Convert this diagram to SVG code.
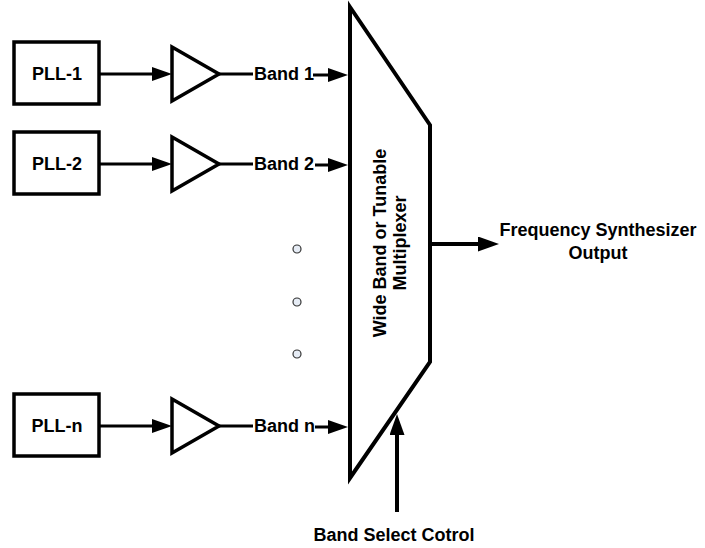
<svg xmlns="http://www.w3.org/2000/svg" width="705" height="548" viewBox="0 0 705 548">
<defs>
<style>
.box{fill:#fff;stroke:#000;stroke-width:3.5}
.amp{fill:#fff;stroke:#000;stroke-width:3.5;stroke-linejoin:miter}
.mux{fill:#fff;stroke:#000;stroke-width:4;stroke-linejoin:miter}
.ln{fill:none;stroke:#000;stroke-width:3}
.arr{fill:none;stroke:#000;stroke-width:3;marker-end:url(#ah)}
.arrb{fill:none;stroke:#000;stroke-width:4;marker-end:url(#ahb)}
.t{font-family:"Liberation Sans",Arial,sans-serif;font-weight:bold;font-size:18px;fill:#000}
.dot{fill:#e6ecf5;stroke:#333;stroke-width:1.2}
</style>
<marker id="ah" viewBox="0 0 20 14" refX="10" refY="7" markerWidth="20" markerHeight="14" markerUnits="userSpaceOnUse" orient="auto">
<path d="M0,0 L20,7 L0,14 z" fill="#000"/>
</marker>
<marker id="ahb" viewBox="0 0 21 15" refX="10" refY="7.5" markerWidth="21" markerHeight="15" markerUnits="userSpaceOnUse" orient="auto">
<path d="M0,0 L21,7.5 L0,15 z" fill="#000"/>
</marker>
</defs>

<g id="pll1">
<rect class="box" x="14" y="42" width="85" height="62"/>
<text class="t" x="57" y="80" text-anchor="middle">PLL-1</text>
</g>
<g id="pll2">
<rect class="box" x="14" y="132" width="85" height="62"/>
<text class="t" x="57" y="170" text-anchor="middle">PLL-2</text>
</g>
<g id="plln">
<rect class="box" x="14" y="394" width="85" height="62"/>
<text class="t" x="57" y="432" text-anchor="middle">PLL-n</text>
</g>

<g id="amp1"><polygon class="amp" points="172,47 219,74 172,101"/></g>
<g id="amp2"><polygon class="amp" points="172,137 219,164 172,191"/></g>
<g id="ampn"><polygon class="amp" points="172,399 219,426 172,453"/></g>

<g id="mux">
<polygon class="mux" points="350,7 430,125 430,362 350,478"/>
<text class="t" transform="translate(386,243) rotate(-90)" text-anchor="middle">Wide Band or Tunable</text>
<text class="t" transform="translate(406,243) rotate(-90)" text-anchor="middle">Multiplexer</text>
</g>

<g id="dots">
<circle class="dot" cx="297" cy="249" r="4"/>
<circle class="dot" cx="297" cy="302" r="4"/>
<circle class="dot" cx="297" cy="354" r="4"/>
</g>

<g id="labels">
<text class="t" x="254" y="80">Band 1</text>
<text class="t" x="254" y="170">Band 2</text>
<text class="t" x="254" y="432">Band n</text>
<text class="t" x="598" y="236" text-anchor="middle">Frequency Synthesizer</text>
<text class="t" x="598" y="259" text-anchor="middle">Output</text>
<text class="t" x="394" y="541" text-anchor="middle">Band Select Cotrol</text>
</g>

<g id="connectors">
<path class="arr" d="M99,74 H162"/>
<path class="arr" d="M99,164 H162"/>
<path class="arr" d="M99,426 H162"/>
<path class="ln" d="M219,74 H253"/>
<path class="ln" d="M219,164 H253"/>
<path class="ln" d="M219,426 H253"/>
<path class="arr" d="M313,75 H338"/>
<path class="arr" d="M315,165 H338"/>
<path class="arr" d="M315,427 H338"/>
<path class="arrb" d="M432,244 H488"/>
<path class="arrb" d="M397,512 V425"/>
</g>
</svg>
